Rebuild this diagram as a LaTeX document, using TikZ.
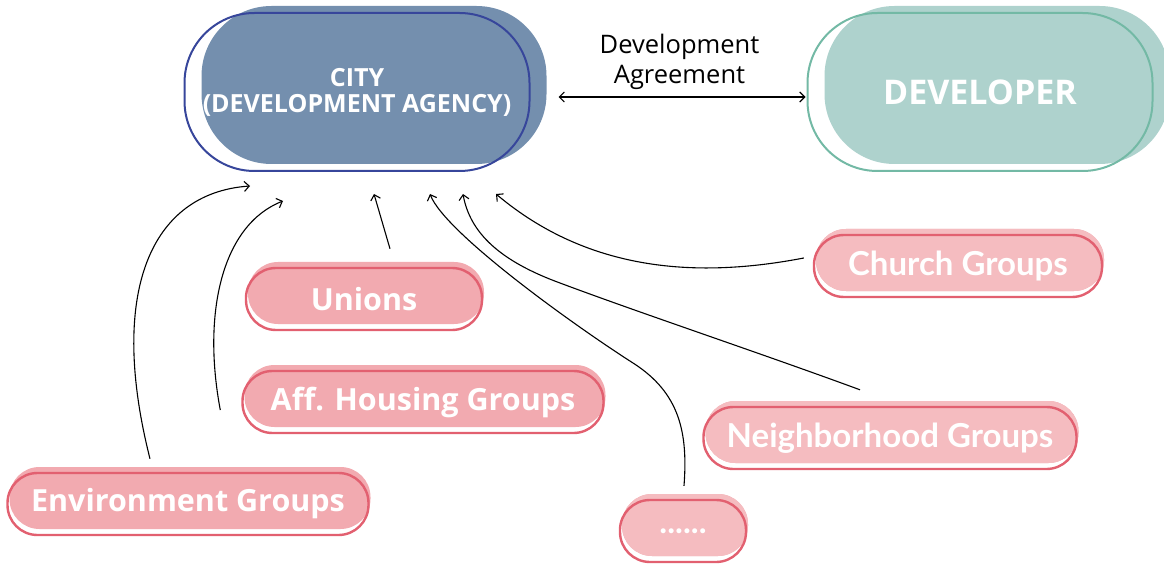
\documentclass[tikz,border=0pt]{standalone}
\usepackage{fontspec}
\setmainfont{Open Sans}
\newfontfamily\lato{Lato}
\usepackage{tikz}
\usetikzlibrary{arrows.meta,positioning,shadows}

\definecolor{cityfill}{RGB}{116,143,174}
\definecolor{cityline}{RGB}{55,70,155}
\definecolor{devfill}{RGB}{174,210,205}
\definecolor{devline}{RGB}{115,185,165}
\definecolor{pinkfill}{RGB}{242,170,176}
\definecolor{pinklight}{RGB}{245,188,192}
\definecolor{pinkline}{RGB}{226,96,112}

\begin{document}
\begin{tikzpicture}[x=1pt,y=1pt,>={Straight Barb[length=5pt,width=10pt]},
    big node/.style={rectangle,rounded corners=70pt,line width=2pt,
      minimum width=345pt,minimum height=158pt,inner sep=0pt,
      align=center,text=white},
    group node/.style={rectangle,rounded corners=30pt,draw=pinkline,line width=2.4pt,
      minimum height=62pt,inner sep=0pt,text=white,
      font=\bfseries\fontsize{30.5}{31}\selectfont,
      general shadow={fill=pinkfill,shadow xshift=2pt,shadow yshift=6pt}},
    light node/.style={group node,font=\lato\bfseries\fontsize{33}{34}\selectfont,
      general shadow={fill=pinklight,shadow xshift=2pt,shadow yshift=6pt}},
    link/.style={->,line width=1.1pt}]

  \useasboundingbox (0,0) rectangle (1164,563);

  \node[big node,draw=cityline,font=\bfseries\fontsize{25}{26}\selectfont,
        general shadow={fill=cityfill,shadow xshift=17pt,shadow yshift=7pt}]
        (city) at (357,471) {CITY\\(DEVELOPMENT AGENCY)};
  \node[big node,draw=devline,font=\bfseries\fontsize{34}{36}\selectfont,
        general shadow={fill=devfill,shadow xshift=17pt,shadow yshift=7pt},
        right=276pt of city] (dev) {DEVELOPER};

  \node[group node,minimum width=236pt] (unions) at (364,264) {Unions};
  \node[group node,minimum width=361pt] (aff) at (423,161) {Aff. Housing Groups};
  \node[group node,minimum width=361pt] (env) at (188,59) {Environment Groups};
  \node[light node,minimum width=288pt] (church) at (958,297) {Church Groups};
  \node[light node,minimum width=373pt] (nbh) at (890,125) {Neighborhood Groups};
  \node[light node,minimum width=126pt] (dots) at (683,32) {......};

  \draw[<->,line width=1.1pt,shorten <=28pt,shorten >=1pt]
    ([yshift=-5pt]city.east) -- node[above=3pt,xshift=11pt,align=center,
      font=\fontsize{25.5}{30}\selectfont] (agree) {Development\\Agreement}
    ([yshift=-5pt]dev.west);

  % groups pointing at the city
  \draw[link] ([shift={(-38,13)}]env.north) .. controls (108,270) and (150,370)
    .. ([shift={(-107,-14)}]city.south);
  \draw[link] ([shift={(-21,-8)}]aff.west) .. controls (202,250) and (222,338)
    .. ([shift={(-74,-29)}]city.south);
  \draw[link] ([shift={(26,18)}]unions.north) -- ([shift={(17,-22)}]city.south);
  \draw[link] ([shift={(1,13)}]dots.north) .. controls (688,130) and (680,170)
    .. (633,200) .. controls (575,237) and (445,330) .. ([shift={(73,-22)}]city.south);
  \draw[link] ([shift={(-30,16)}]nbh.north) .. controls (760,210) and (640,250)
    .. (560,280) .. controls (500,302) and (470,330) .. ([shift={(106,-22)}]city.south);
  \draw[link] ([shift={(-9,8)}]church.west) .. controls (700,285) and (590,290)
    .. ([shift={(139,-22)}]city.south);
\end{tikzpicture}
\end{document}
